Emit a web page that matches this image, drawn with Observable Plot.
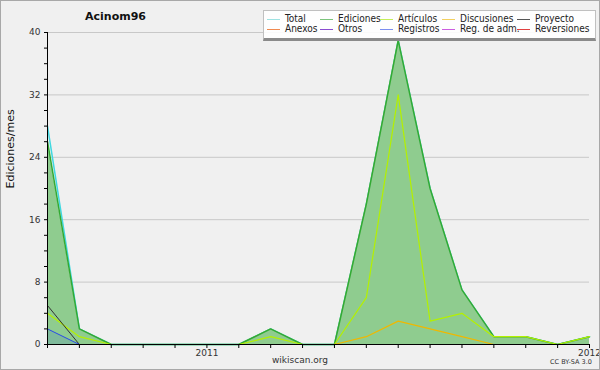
<!DOCTYPE html>
<html>
<head>
<meta charset="utf-8">
<script src="https://cdn.jsdelivr.net/npm/d3@7"></script>
<script src="https://cdn.jsdelivr.net/npm/@observablehq/plot@0.6"></script>
<style>
  html, body { margin: 0; padding: 0; background: #f0f0f0; }
  #wrap { position: relative; width: 600px; height: 370px; overflow: hidden; font-family: "DejaVu Sans", sans-serif; }
  #border { position: absolute; left: 0; top: 0; width: 598px; height: 368px; border: 1px solid #a8a8a8; pointer-events: none; }
  #title { position: absolute; left: 85px; top: 10px; font-size: 11px; font-weight: bold; color: #111; }
  #legend { position: absolute; left: 263px; top: 10px; width: 331px; height: 27px; background: rgba(255,255,255,0.9); border: 1px solid #c0c0c0; border-bottom: 3px solid #8a8a8a; }
  .li { position: absolute; font-family: "DejaVu Sans Condensed", "DejaVu Sans", sans-serif; font-stretch: condensed; font-size: 10px; color: #222; white-space: nowrap; line-height: 10px; }
  .ll { position: absolute; height: 1px; width: 13px; }
  #foot1 { position: absolute; left: 0; width: 600px; top: 355px; text-align: center; font-size: 9px; color: #333; }
  #foot2 { position: absolute; left: 550px; top: 358px; font-size: 6.5px; color: #333; }
</style>
</head>
<body>
<div id="wrap"></div>
<script>
// ---- data ----
const months = ["2010-08","2010-09","2010-10","2010-11","2010-12","2011-01","2011-02","2011-03","2011-04","2011-05","2011-06","2011-07","2011-08","2011-09","2011-10","2011-11","2011-12","2012-01"];
const total       = [28, 2, 0, 0, 0, 0, 0, 2, 0, 0, 18, 39, 20, 7, 1, 1, 0, 1];
const ediciones   = [26, 2, 0, 0, 0, 0, 0, 2, 0, 0, 18, 39, 20, 7, 1, 1, 0, 1];
const articulos   = [4, 1, 0, 0, 0, 0, 0, 1, 0, 0, 6, 32, 3, 4, 1, 1, 0, 1];
const discusiones = [0, 0, 0, 0, 0, 0, 0, 0, 0, 0, 1, 3, 2, 1, 0, 0, 0, 0];
const proyecto    = [5, 0, 0, 0, 0, 0, 0, 0, 0, 0, 0, 0, 0, 0, 0, 0, 0, 0];
const registros   = [2, 0, 0, 0, 0, 0, 0, 0, 0, 0, 0, 0, 0, 0, 0, 0, 0, 0];
const yearTicks = {"2011-01": "2011", "2012-01": "2012"};
const legendLabels = ["Total","Ediciones","Artículos","Discusiones","Proyecto","Anexos","Otros","Registros","Reg. de adm.","Reversiones"];
const legendColors = ["#9ee2e2","#7cc47c","#c4ee5a","#f2d060","#555555","#f08a50","#8a4cd0","#7c8ef0","#cc5ee0","#e04040"];
const titleText = "Acinom96";
const yLabel = "Ediciones/mes";

const data = months.map((m, i) => ({
  month: m, total: total[i], ediciones: ediciones[i], articulos: articulos[i],
  discusiones: discusiones[i], proyecto: proyecto[i], registros: registros[i]
}));

const chart = Plot.plot({
  width: 600, height: 370,
  marginLeft: 47, marginRight: 11, marginTop: 32, marginBottom: 26,
  style: { background: "#f0f0f0", fontFamily: "DejaVu Sans, sans-serif", fontSize: "9px", color: "#333", overflow: "visible" },
  x: { type: "point", domain: months, padding: 0, round: false },
  y: { domain: [0, 40] },
  marks: [
    Plot.gridY([8, 16, 24, 32, 40], { stroke: "#c8c8c8", strokeOpacity: 1 }),
    Plot.lineY(data, { x: "month", y: "total", stroke: "#40d8e0", strokeWidth: 1.5 }),
    Plot.areaY(data, { x: "month", y: "ediciones", fill: "#8fcc8f", fillOpacity: 1 }),
    Plot.areaY(data, { x: "month", y: "registros", fill: "#3a6ad0", fillOpacity: 0.18 }),
    Plot.lineY(data, { x: "month", y: "ediciones", stroke: "#33aa33", strokeWidth: 1.5 }),
    Plot.lineY(data, { x: "month", y: "articulos", stroke: "#b4f000", strokeWidth: 1.2 }),
    Plot.lineY(data, { x: "month", y: "discusiones", stroke: "#f0b800", strokeWidth: 1.2 }),
    Plot.lineY(data, { x: "month", y: "proyecto", stroke: "#333333", strokeWidth: 1 }),
    Plot.lineY(data, { x: "month", y: "registros", stroke: "#2a4ae8", strokeWidth: 1 }),
    Plot.axisY({ ticks: d3.range(0, 41, 2), tickFormat: d => d % 8 === 0 ? d : "", tickSize: 3, tickPadding: 4, label: null, stroke: "#000" }),
    Plot.axisX({ ticks: months, tickFormat: d => yearTicks[d] || "", tickSize: 4, tickPadding: 1, label: null, stroke: "#000" }),
    Plot.ruleY([0], { stroke: "#000" }),
    Plot.ruleX([months[0]], { stroke: "#000" }),
    Plot.text([yLabel], { frameAnchor: "left", dx: -37, rotate: -90, text: d => d, fontSize: 11, fill: "#111" })
  ]
});

const wrap = document.getElementById("wrap");
wrap.appendChild(chart);

const title = document.createElement("div");
title.id = "title"; title.textContent = titleText; wrap.appendChild(title);

const legend = document.createElement("div");
legend.id = "legend"; wrap.appendChild(legend);
const colX = [3, 56, 116, 178, 253];
legendLabels.forEach((lab, i) => {
  const col = i % 5, row = Math.floor(i / 5);
  const ln = document.createElement("div");
  ln.className = "ll";
  ln.style.left = colX[col] + "px";
  ln.style.top = (8 + row * 10) + "px";
  ln.style.background = legendColors[i];
  legend.appendChild(ln);
  const t = document.createElement("div");
  t.className = "li";
  t.style.left = (colX[col] + 18) + "px";
  t.style.top = (3 + row * 10) + "px";
  t.textContent = lab;
  legend.appendChild(t);
});

const f1 = document.createElement("div"); f1.id = "foot1"; f1.textContent = "wikiscan.org"; wrap.appendChild(f1);
const f2 = document.createElement("div"); f2.id = "foot2"; f2.textContent = "CC BY-SA 3.0"; wrap.appendChild(f2);
const b = document.createElement("div"); b.id = "border"; wrap.appendChild(b);
</script>
</body>
</html>
